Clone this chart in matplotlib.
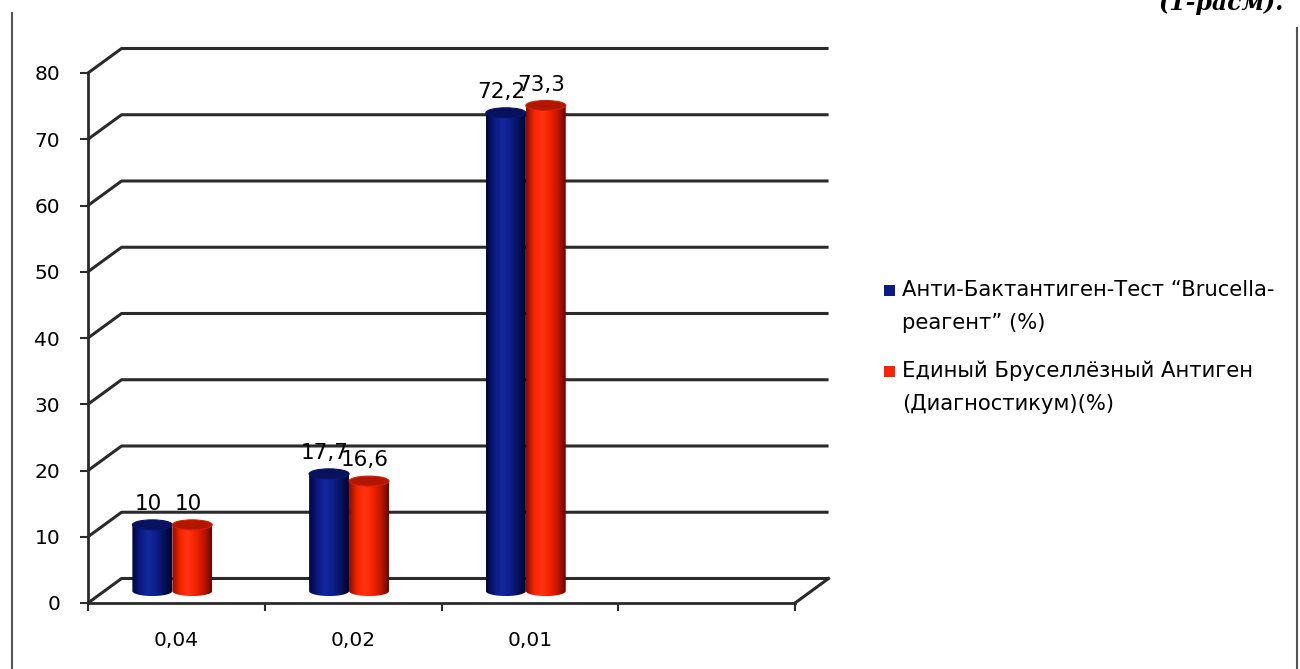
import numpy as np
import matplotlib.pyplot as plt
from matplotlib.colors import LinearSegmentedColormap
from matplotlib.patches import Ellipse, PathPatch, Rectangle
from matplotlib.path import Path
from matplotlib.lines import Line2D

plt.rcParams['font.family'] = ['DejaVu Sans']

categories = ['0,04', '0,02', '0,01', '']
series_names = ['Анти-Бактантиген-Тест “Brucella-\nреагент” (%)',
                'Единый Бруселлёзный Антиген\n(Диагностикум)(%)']
anti_bact = [10, 17.7, 72.2]
edinyi = [10, 16.6, 73.3]
value_labels = [['10', '17,7', '72,2'], ['10', '16,6', '73,3']]
yticks = list(range(0, 81, 10))

# depth of the 3d box (data units) and where the bars sit in it
DX, DY = 0.19, 3.7
BAR_DX, BAR_DY = -0.023, 1.8
HALF_W = 0.113
RY = 0.75
GRID = '#2b2b2b'

blue_cmap = LinearSegmentedColormap.from_list(
    'b', ['#000640', '#0a1a80', '#14289e', '#0e1f8c', '#06125e', '#00052e'])
red_cmap = LinearSegmentedColormap.from_list(
    'r', ['#8a0c00', '#f52600', '#ff3410', '#f22200', '#c21500', '#6a0800'])
top_colors = ['#07115c', '#b01600']
legend_colors = ['#0a1a8c', '#ff2200']

fig = plt.figure(figsize=(13, 6.69), dpi=100)
ax = fig.add_axes([88 / 1300, 66 / 669, 707 / 1300, 530 / 669])
ax.set_xlim(0, 4)
ax.set_ylim(0, 80)
ax.patch.set_visible(False)
for s in ['top', 'right']:
    ax.spines[s].set_visible(False)
for s in ['left', 'bottom']:
    ax.spines[s].set_linewidth(2)
    ax.spines[s].set_color(GRID)

ax.set_yticks(yticks)
ax.set_yticklabels([str(v) for v in yticks])
ax.tick_params(axis='y', length=6, width=1.5, color=GRID, pad=14, labelsize=14.5)
ax.set_xticks(range(5))
ax.set_xticklabels([''] * 5)
ax.tick_params(axis='x', which='major', length=6, width=1.5, color=GRID)
ax.set_xticks(np.arange(4) + 0.5, minor=True)
ax.set_xticklabels(categories, minor=True)
ax.tick_params(axis='x', which='minor', length=0, pad=20, labelsize=14.5)

# back wall gridlines with the left side-wall diagonals
for v in yticks:
    ax.plot([0, DX, 4 + DX], [v, v + DY, v + DY], color=GRID, lw=2.2,
            clip_on=False, solid_capstyle='butt', zorder=1)
ax.plot([4, 4 + DX], [0, DY], color=GRID, lw=2.2, clip_on=False, zorder=1)


def cylinder(xc, val, cmap, top_color):
    x0, x1 = xc - HALF_W, xc + HALF_W
    y0, y1 = BAR_DY, val + BAR_DY
    th = np.linspace(np.pi, 2 * np.pi, 40)
    arc = np.column_stack([xc + HALF_W * np.cos(th), y0 + RY * np.sin(th)])
    verts = np.vstack([[x0, y1], arc, [x1, y1], [x0, y1]])
    codes = [Path.MOVETO] + [Path.LINETO] * (len(verts) - 2) + [Path.CLOSEPOLY]
    body = PathPatch(Path(verts, codes), facecolor='none', edgecolor='none')
    ax.add_patch(body)
    grad = np.linspace(0, 1, 64).reshape(1, -1)
    im = ax.imshow(grad, cmap=cmap, extent=[x0, x1, y0 - RY, y1], aspect='auto',
                   interpolation='bilinear', zorder=3)
    im.set_clip_path(body)
    ax.add_patch(Ellipse((xc, y1), 2 * HALF_W, 2 * RY, facecolor=top_color,
                         edgecolor=cmap(0.15), lw=0.8, zorder=4))


for s, (vals, cmap) in enumerate([(anti_bact, blue_cmap), (edinyi, red_cmap)]):
    for i, v in enumerate(vals):
        xc = i + 0.5 + BAR_DX + (2 * s - 1) * HALF_W
        cylinder(xc, v, cmap, top_colors[s])
        ax.annotate(value_labels[s][i], (xc, v + BAR_DY), xytext=(-3, 15),
                    textcoords='offset points', ha='center', va='center',
                    fontsize=15.5, zorder=6)

ax.set_ylim(0, 80)
ax.set_xlim(0, 4)

# legend
for s, name in enumerate(series_names):
    y_first = 1 - (290 + 81 * s) / 669
    fig.add_artist(Rectangle((884 / 1300, y_first - 5.5 / 669), 11 / 1300, 11 / 669,
                             facecolor=legend_colors[s], edgecolor='none',
                             transform=fig.transFigure))
    for k, line in enumerate(name.split('\n')):
        fig.text(902 / 1300, y_first - k * 33 / 669, line, ha='left', va='center',
                 fontsize=15.2)

# page frame and caption
fig.add_artist(Line2D([12 / 1300, 12 / 1300], [0, 1 - 13 / 669], color='#555555', lw=1.5))
fig.add_artist(Line2D([1297 / 1300, 1297 / 1300], [0, 1 - 28 / 669], color='#555555', lw=1.5))
fig.text(1284 / 1300, 1 - 10 / 669, '(1-расм).', ha='right', va='baseline',
         fontsize=17, family='DejaVu Serif', weight='bold', style='italic')

fig.savefig('out.png', dpi=100, facecolor='white')
